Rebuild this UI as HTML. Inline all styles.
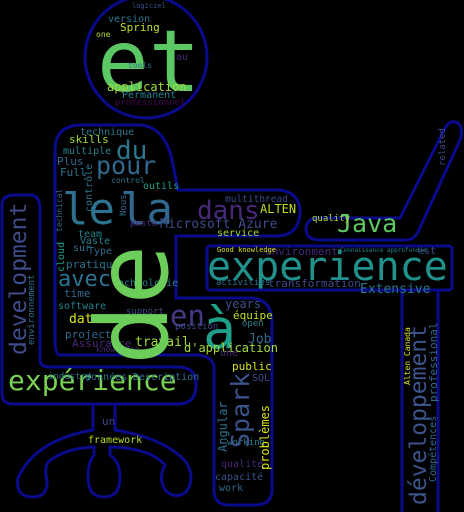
<!DOCTYPE html>
<html><head><meta charset="utf-8">
<style>
html,body{margin:0;padding:0;background:#000;}
#c{position:relative;width:464px;height:512px;overflow:hidden;background:#000;font-family:"DejaVu Sans Mono","Liberation Mono",monospace;}
#c svg{position:absolute;left:0;top:0;}
.w{position:absolute;white-space:nowrap;line-height:1;}
.v{transform-origin:0 0;transform:rotate(-90deg);}
</style></head>
<body>
<div id="c">
<svg width="464" height="512" fill="none" stroke="#0a0a8c" stroke-width="3">
<circle cx="146" cy="57" r="61"/>
<path d="M55,150 Q55,125 82,125 L140,125 Q165,127 172,160 L178,190 L280,190 Q301,193 300,214 Q298,236 276,236 L176,236 L176,298 L252,298 Q272,300 272,322 L272,490 Q272,505 255,505 L229,505 Q214,505 214,490 L214,365 Q210,355 195,355 L60,355 Q55,355 55,340 Z"/>
<path d="M2,205 Q2,195 15,195 L30,195 Q40,195 40,210 L40,360 Q40,367 50,367 L180,367 Q196,368 196,385 Q196,403 180,404 L12,404 Q2,404 2,392 Z"/>
<path d="M93,404 L93,430 Q35,440 18,478 Q15,497 33,497 Q48,497 47,480 Q44,470 48,462 Q65,448 94,447 L94,455 Q88,462 88,477 Q88,497 104,497 Q120,497 120,477 Q120,462 110,455 L110,447 Q150,448 165,465 Q158,478 165,490 Q175,500 186,492 Q196,478 186,462 Q165,438 115,430 L115,404"/>
<path d="M320,218 L400,218 L445,128 Q452,117 460,125 Q463,132 460,140 L418,232 Q414,240 405,240 L320,240 Q306,240 306,229 Q306,218 320,218 Z"/>
<rect x="207" y="246" width="245" height="44" rx="3"/>
<path d="M402,290 L402,512 M438,290 L438,512"/>
</svg>
</div>
<script>
var words = ["et","experience","expérience","le","la","pour","du","dans","Java","avec","en","à","Microsoft Azure","application","Spring","version","logiciel","one","tools","au","Permanent","professionnel","technique","skills","multiple","Plus","Full","control","outils","multithread","ALTEN","service","poste","team","Vaste","sur","Type","pratique","technologie","time","software","data","projects","Assurance","travail","support","position","d'application","knowledge","years","équipe","open","Job","une","public","SQL","working","qualité","capacité","work","données","Description","industry","framework","un","Extensive","transformation","environment","activities","Good knowledge","quality","Connaissance approfondie","est"];
var xs = [97,207,8,62,120,96,116,197,337,58,170,203,160,107,120,108,132,96,128,176,122,115,80,69,63,57,60,111,143,225,260,217,130,78,80,73,88,66,112,64,58,69,65,72,135,126,175,184,96,225,233,242,248,220,232,252,227,221,215,219,85,133,48,88,102,360,268,265,216,217,312,340,418];
var ys = [66,269,382,212,212,167,152,212,225,281,318,332,225,88,28,20,7,35,66,58,96,104,133,140,152,162,173,181,187,200,210,234,225,235,242,249,252,265,284,294,307,320,335,344,343,313,328,349,350,305,316,325,340,354,367,379,444,465,478,489,378,378,378,441,422,290,284,252,284,251,220,251,252];
var sizes = [86,40,28,44,44,25,26,26,25,22,29,55,13,12,11,10,7,8,8,10,10,9,10,11,10,11,11,8,10,9.5,12,10,9,10,10,10,10,11,10,11,10,13,11,11,13,9,9,12,8,12,11,9,13,10,11,10,9,10,10,10,10,10,9,10,11,13,11,11,9,7,9,6,10];
var colors = ["#5cc863","#21918c","#7ad151","#2c728e","#31688e","#31688e","#2a788e","#482878","#5ec962","#2c728e","#443983","#1f9e89","#3e4a89","#a0da39","#bddf26","#2a788e","#3b528b","#b5de2b","#2c728e","#482878","#26828e","#440154","#2a788e","#a0da39","#26828e","#31688e","#2c728e","#2c728e","#1f9e89","#3e4a89","#bddf26","#a0da39","#482878","#26828e","#26828e","#2c728e","#31688e","#2c728e","#26828e","#31688e","#26828e","#d8e219","#31688e","#482878","#a0da39","#3e4a89","#3e4a89","#a0da39","#482878","#3b528b","#c2df23","#26828e","#31688e","#482878","#d8e219","#3e4a89","#26828e","#482878","#3b528b","#31688e","#2c728e","#2c728e","#2a788e","#b5de2b","#3e4a89","#2a788e","#3e4a89","#482878","#2c728e","#d8e219","#b5de2b","#26828e","#3e4a89"];
var vwords = ["de","development","développement","Spark","contrôle","technical","cloud","Nous","environnement","Angular","problèmes","professional","Compétences","Alten Canada","related"];
var vxs = [138,21,421,242,90,60,62,125,33,224,266,434,434,408,444];
var vbottoms = [365,355,505,448,212,232,272,216,345,452,470,402,482,385,166];
var vsizes = [100,23,23,25,10,8,10,9,9,12,12,11,10,8,9];
var vcolors = ["#6ccd5a","#3e4a89","#3b528b","#3b528b","#2c728e","#31688e","#1f9e89","#31688e","#2c728e","#2c728e","#d8e219","#31688e","#31688e","#d8e219","#3e4a89"];
var c = document.getElementById('c');
function slug(t){return t.toLowerCase().replace(/[^a-z0-9]+/g,'-').replace(/^-|-$/g,'');}
for (var i=0;i<words.length;i++){
  var d=document.createElement('div');
  d.className='w';
  d.textContent=words[i];
  d.style.left=xs[i]+'px';
  d.style.top=(ys[i]-0.55*sizes[i])+'px';
  d.style.fontSize=sizes[i]+'px';
  d.style.color=colors[i];
  
  
  c.appendChild(d);
}
for (var j=0;j<vwords.length;j++){
  var e=document.createElement('div');
  e.className='w v';
  e.textContent=vwords[j];
  e.style.left=(vxs[j]-0.55*vsizes[j])+'px';
  e.style.top=vbottoms[j]+'px';
  e.style.fontSize=vsizes[j]+'px';
  e.style.color=vcolors[j];
  
  
  c.appendChild(e);
}
</script>
</body></html>
